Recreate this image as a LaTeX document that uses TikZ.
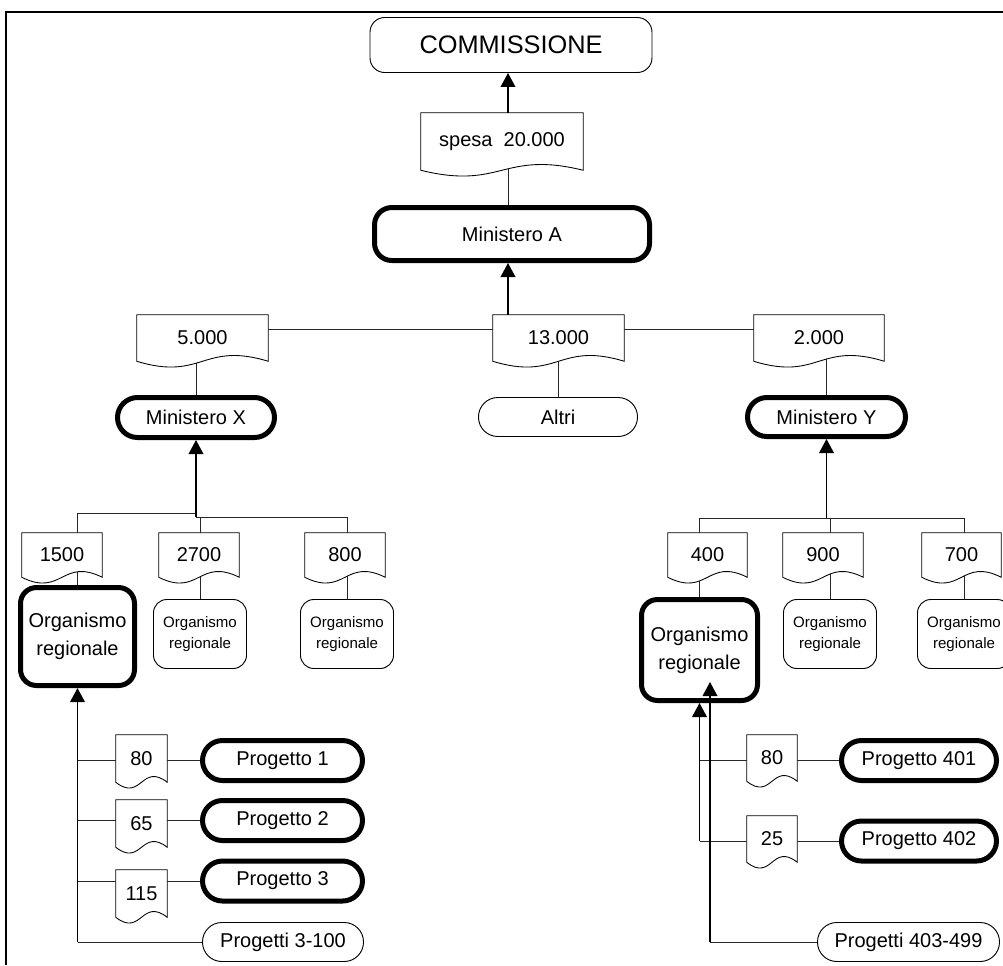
\documentclass[tikz,border=0pt]{standalone}
\usepackage{fontspec}
\setmainfont{Liberation Sans}
\usetikzlibrary{arrows.meta,calc}
\pgfdeclarelayer{bg}
\pgfdeclarelayer{docs}
\pgfsetlayers{bg,docs,main}
\tikzset{
  every node/.style={font=\fontsize{15}{21}\selectfont, inner sep=0pt, align=center},
  thinbox/.style={draw, line width=0.7pt, fill=white},
  thickbox/.style={draw, line width=3.75pt, fill=white},
  docn/.style={minimum width=#1},
  smallorg/.style={thinbox, rounded corners=10pt, minimum width=69.75pt, minimum height=51.75pt, font=\fontsize{11.3}{15.5}\selectfont},
  progbox/.style={thickbox, rounded corners=15pt, minimum height=30pt},
  conn/.style={line width=0.65pt, draw=black!85},
  arr/.style={line width=1.1pt, -{Triangle[width=11pt,length=10.5pt]}},
}
\newcommand\docshape[1]{%
  \begin{pgfonlayer}{docs}
  \draw[line width=0.65pt, fill=white] (#1.south east) -- (#1.north east) -- (#1.north west) -- (#1.south west)
    .. controls ($(#1.south)+(0,-15pt)$) and ($(#1.south)+(0,15pt)$) .. (#1.south east) -- cycle;
  \end{pgfonlayer}}
\begin{document}
\begin{tikzpicture}[x=0.75pt, y=-0.75pt]
\useasboundingbox (0,0) rectangle (1003,965);
\clip (0,0) rectangle (1003,965);
% frame
\draw[line width=1.5pt] (6,965) -- (6,12) -- (1003,12);
% helper coordinates
\coordinate (cA) at (508,0);
\coordinate (yTop) at (0,329);
\coordinate (yL) at (0,513);
\coordinate (yL2) at (0,517);
\coordinate (yR) at (0,518);
\coordinate (x710) at (710,0);
\coordinate (y682) at (0,682);
% top
\node[thinbox, rounded corners=11pt, minimum width=211.5pt, minimum height=41.25pt, font=\fontsize{19}{22}\selectfont] (comm) at (511,45) {COMMISSIONE};
\node[docn=121.5pt, minimum height=42.75pt] (spesa) at (502,141.5) {spesa~ 20.000};
\node[thickbox, rounded corners=13pt, minimum width=206.25pt, minimum height=39.75pt] (minA) at (512,234) {Ministero A};
% level 2
\node[docn=98.25pt, minimum height=34.5pt] (d5) at (202.5,338) {5.000};
\node[docn=98.25pt, minimum height=34.5pt] (d13) at (558.5,338) {13.000};
\node[docn=97.5pt, minimum height=34.5pt] (d2) at (819,338) {2.000};
\node[thickbox, rounded corners=15pt, minimum width=117.75pt, minimum height=30pt] (minX) at (196,417.5) {Ministero X};
\node[thinbox, rounded corners=14.5pt, minimum width=119.25pt, minimum height=29.25pt] (altri) at (558,417) {Altri};
\node[thickbox, rounded corners=14.5pt, minimum width=118.5pt, minimum height=29.25pt] (minY) at (826.5,417) {Ministero Y};
% level 3 docs
\node[docn=60pt, minimum height=33pt] (d1500) at (62,555) {1500};
\node[docn=60pt, minimum height=33pt] (d2700) at (199,555) {2700};
\node[docn=60pt, minimum height=33pt] (d800) at (345,555) {800};
\node[docn=59.25pt, minimum height=33pt] (d400) at (707.5,555) {400};
\node[docn=60pt, minimum height=33pt] (d900) at (823,555) {900};
\node[docn=59.25pt, minimum height=33pt] (d700) at (961.5,555) {700};
% organismi
\node[thickbox, rounded corners=12pt, minimum width=85.5pt, minimum height=73.5pt] (orgL) at (77.5,636.5) {Organismo\\regionale};
\node[smallorg] (oA) at (200,634) {Organismo\\regionale};
\node[smallorg] (oB) at (347,634) {Organismo\\regionale};
\node[thickbox, rounded corners=12pt, minimum width=87pt, minimum height=75.75pt] (orgR) at (699.5,650) {Organismo\\regionale};
\node[smallorg] (oC) at (830,634) {Organismo\\regionale};
\node[smallorg] (oD) at (964,634) {Organismo\\regionale};
% bottom left
\node[docn=38.25pt, minimum height=35.25pt] (d80) at (141.5,758.5) {80};
\node[docn=38.25pt, minimum height=35.25pt] (d65) at (141.5,823.5) {65};
\node[docn=38.25pt, minimum height=35.25pt] (d115) at (141.5,893.5) {115};
\node[progbox, minimum width=120pt] (p1) at (282.5,760.5) {Progetto 1};
\node[progbox, minimum width=120pt] (p2) at (282.5,820.5) {Progetto 2};
\node[progbox, minimum width=120pt] (p3) at (282.5,881) {Progetto 3};
\node[thinbox, rounded corners=14.5pt, minimum width=120.75pt, minimum height=29.25pt] (p3100) at (283,942) {Progetti 3-100};
% bottom right
\node[docn=37.5pt, minimum height=34.5pt] (d80r) at (772,758) {80};
\node[docn=37.5pt, minimum height=34.5pt] (d25) at (772,839) {25};
\node[progbox, minimum width=116.25pt] (p401) at (919,760.5) {Progetto 401};
\node[progbox, minimum width=116.25pt] (p402) at (919,841) {Progetto 402};
\node[thinbox, rounded corners=14.5pt, minimum width=136.5pt, minimum height=29.25pt] (p499) at (908.5,942) {Progetti 403-499};
% document outlines
\docshape{spesa}
\docshape{d5}\docshape{d13}\docshape{d2}
\docshape{d1500}\docshape{d2700}\docshape{d800}
\docshape{d400}\docshape{d900}\docshape{d700}
\docshape{d80}\docshape{d65}\docshape{d115}
\docshape{d80r}\docshape{d25}
% plain connectors
\begin{pgfonlayer}{bg}
\draw[conn] (spesa.center -| cA) -- (minA.north -| cA);
\draw[conn] (d5.east |- yTop) -- (d13.west |- yTop);
\draw[conn] (d13.east |- yTop) -- (d2.west |- yTop);
\draw[conn] (minX.north) -- (minX.north |- d5.center);
\draw[conn] (altri.north) -- (altri.north |- d13.center);
\draw[conn] (minY.north) -- (minY.north |- d2.center);
\draw[conn] (orgL.north) -- (orgL.north |- yL) -- (minX.south |- yL);
\draw[conn] (minX.south |- yL2) -- (oB.north |- yL2) -- (oB.north);
\draw[conn] (oA.north) -- (oA.north |- yL2);
\draw[conn] (orgR.north) -- (orgR.north |- yR) -- (oD.north |- yR) -- (oD.north);
\draw[conn] (oC.north) -- (oC.north |- yR);
\draw[conn] (orgL.south |- p1.west) -- (p1.west);
\draw[conn] (orgL.south |- p2.west) -- (p2.west);
\draw[conn] (orgL.south |- p3.west) -- (p3.west);
\draw[conn] (orgL.south |- p3100.west) -- (p3100.west);
\draw[conn] (orgR.south |- p401.west) -- (p401.west);
\draw[conn] (orgR.south |- p402.west) -- (p402.west);
\draw[conn] (p499.west) -- (p499.west -| x710);
\end{pgfonlayer}
% arrows
\draw[arr] (spesa.north -| cA) -- (comm.south -| cA);
\draw[arr] (d13.north -| cA) -- (minA.south -| cA);
\draw[arr] (minX.south |- yL2) -- (minX.south);
\draw[arr] (minY.south |- yR) -- (minY.south);
\draw[arr] (orgL.south |- p3100.west) -- (orgL.south);
\draw[arr] (orgR.south |- p402.west) -- (orgR.south);
\draw[arr] (p499.west -| x710) -- (x710 |- y682);
\end{tikzpicture}
\end{document}
